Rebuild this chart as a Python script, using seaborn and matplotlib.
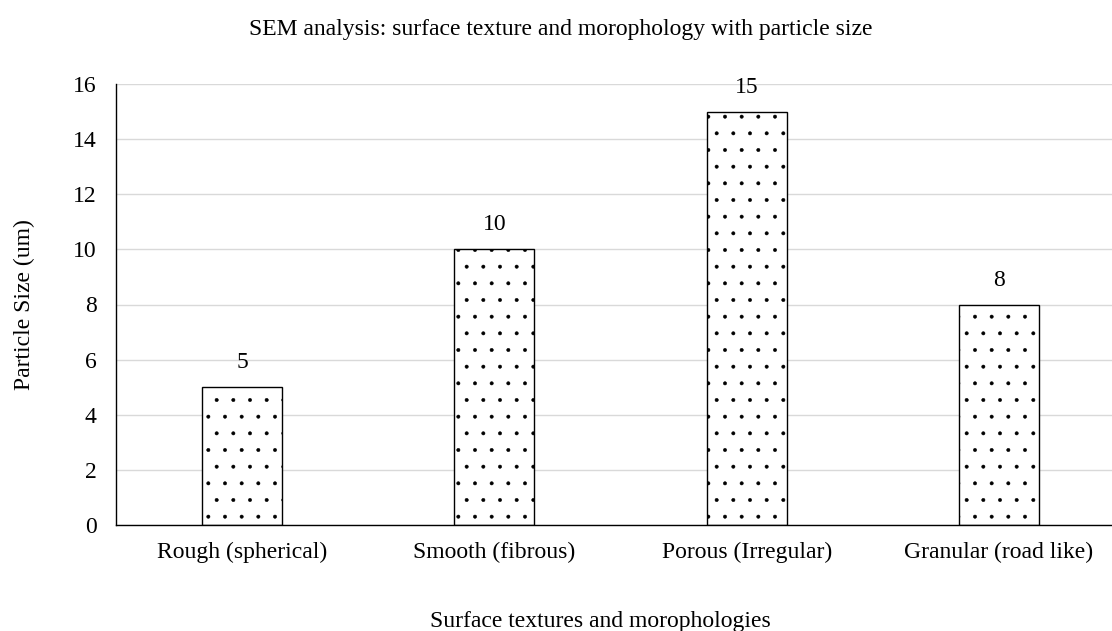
import matplotlib
matplotlib.use("Agg")
import matplotlib.pyplot as plt
import seaborn as sns
import pandas as pd

categories = ["Rough (spherical)", "Smooth (fibrous)", "Porous (Irregular)", "Granular (road like)"]
sizes = [5, 10, 15, 8]
yticks = [0, 2, 4, 6, 8, 10, 12, 14, 16]

sns.set_theme(style="white")
plt.rcParams["font.family"] = ["Liberation Serif", "DejaVu Serif"]
plt.rcParams["hatch.color"] = "black"
plt.rcParams["hatch.linewidth"] = 0.35

df = pd.DataFrame({"cat": categories, "size": sizes})

fig = plt.figure(figsize=(11.12, 6.31), dpi=100)
ax = fig.add_axes([116/1112, 1 - 525/631, 1009/1112, (525 - 84)/631])

sns.barplot(data=df, x="cat", y="size", ax=ax, color="white", edgecolor="black",
            linewidth=1.0, width=0.317, hatch=".", zorder=3)

ax.set_ylim(0, 16)
ax.set_xlim(-0.5, 3.5)
ax.set_yticks(yticks)
ax.yaxis.grid(True, color="#d9d9d9", linewidth=1.0, zorder=0)
ax.set_axisbelow(True)
for s in ["top", "right"]:
    ax.spines[s].set_visible(False)
for s in ["left", "bottom"]:
    ax.spines[s].set_color("black")
    ax.spines[s].set_linewidth(1.0)
    ax.spines[s].set_zorder(4)
ax.tick_params(axis="both", length=0, labelsize=17, colors="black")
ax.tick_params(axis="y", pad=14)
ax.tick_params(axis="x", pad=12)

for cont in ax.containers:
    ax.bar_label(cont, labels=[str(v) for v in sizes], padding=10, fontsize=17, color="black")

ax.set_xlabel("")
ax.set_ylabel("Particle Size (um)", fontsize=17, color="black", labelpad=27)
fig.text(600/1112, 1 - 621/631, "Surface textures and morophologies",
         ha="center", va="center", fontsize=17, color="black")
fig.text(561/1112, 1 - 30/631, "SEM analysis: surface texture and morophology with particle size",
         ha="center", va="center", fontsize=17, color="black")

fig.savefig("out.png", dpi=100)
